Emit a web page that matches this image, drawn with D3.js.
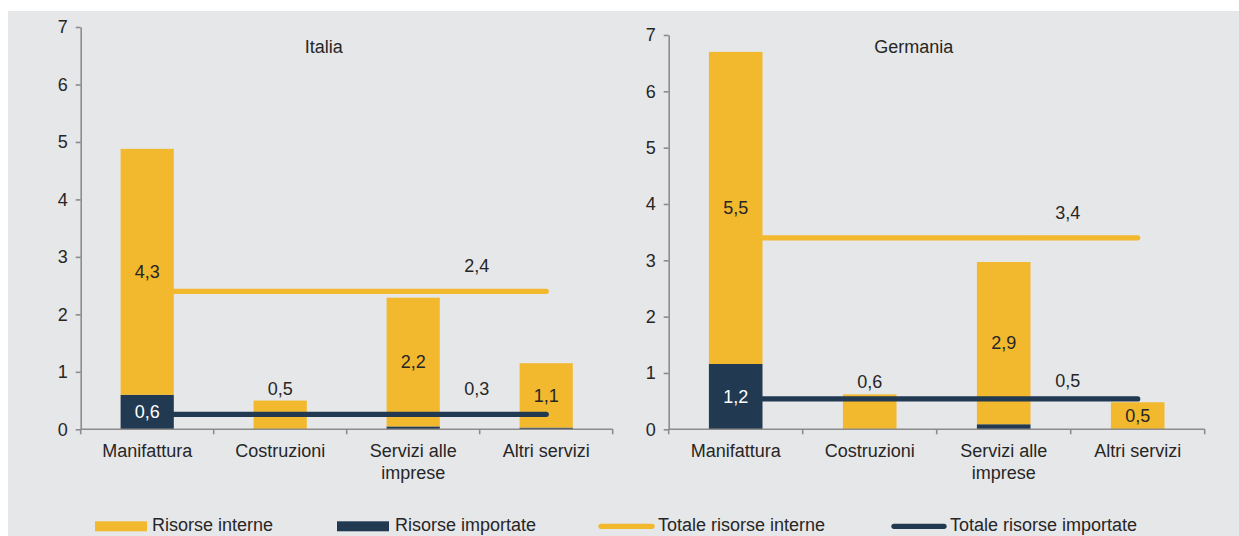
<!DOCTYPE html>
<html>
<head>
<meta charset="utf-8">
<script src="https://cdn.jsdelivr.net/npm/d3@7"></script>
<style>
  html, body { margin: 0; padding: 0; background: #ffffff; }
  svg { display: block; }
  text { font-family: "Liberation Sans", Arial, sans-serif; font-size: 18px; fill: #262626; }
</style>
</head>
<body>
<svg id="chart" width="1239" height="536"></svg>
<script>
// ---------- data ----------
const categories = ["Manifattura", "Costruzioni", "Servizi alle imprese", "Altri servizi"];
const categoryLines = [["Manifattura"], ["Costruzioni"], ["Servizi alle", "imprese"], ["Altri servizi"]];
const yTicks = [0, 1, 2, 3, 4, 5, 6, 7];

const italiaInterne   = [4.28, 0.50, 2.24, 1.12];
const italiaImportate = [0.60, 0.00, 0.05, 0.03];
const italiaTotaleInterne   = 2.4;
const italiaTotaleImportate = 0.26;

const germaniaInterne   = [5.54, 0.62, 2.88, 0.48];
const germaniaImportate = [1.16, 0.00, 0.09, 0.00];
const germaniaTotaleInterne   = 3.4;
const germaniaTotaleImportate = 0.54;

const internalLabelAbove = [false, true, false, false];

const legendLabels = ["Risorse interne", "Risorse importate", "Totale risorse interne", "Totale risorse importate"];

// ---------- style ----------
const YELLOW = "#f2b82e";
const NAVY = "#213a52";
const AXIS = "#8c8c8c";
const BG = "#e6e7e9";

const fmt = d3.formatLocale({decimal: ",", thousands: ".", grouping: [3], currency: ["€", ""]}).format(".1f");

const svg = d3.select("#chart");
svg.append("rect").attr("x", 8).attr("y", 11).attr("width", 1231).attr("height", 525).attr("fill", BG);

const panels = [
  {title: "Italia", interne: italiaInterne, importate: italiaImportate,
   totInt: italiaTotaleInterne, totImp: italiaTotaleImportate,
   left: 80.7, right: 612.7, top: 27, bottom: 429.3, impLabelOffset: 19},
  {title: "Germania", interne: germaniaInterne, importate: germaniaImportate,
   totInt: germaniaTotaleInterne, totImp: germaniaTotaleImportate,
   left: 668.7, right: 1204.7, top: 35, bottom: 429.3, impLabelOffset: 12}
];

panels.forEach(p => {
  const g = svg.append("g");
  const x = d3.scaleBand().domain(categories).range([p.left, p.right]).paddingInner(0.6).paddingOuter(0.3);
  const y = d3.scaleLinear().domain([0, 7]).range([p.bottom, p.top]);

  const rows = categories.map((c, i) => ({cat: c, importate: p.importate[i], interne: p.interne[i]}));
  const stack = d3.stack().keys(["importate", "interne"])(rows);
  const colors = {importate: NAVY, interne: YELLOW};

  // y axis
  const yAxis = g.append("g").attr("transform", `translate(${p.left},0)`)
    .call(d3.axisLeft(y).tickValues(yTicks).tickSize(5).tickSizeOuter(0).tickPadding(8).tickFormat(d3.format("d")));
  yAxis.select(".domain").attr("stroke", AXIS).attr("stroke-width", 1.6);
  yAxis.selectAll(".tick line").attr("stroke", AXIS).attr("stroke-width", 1.6);
  yAxis.selectAll(".tick text").attr("font-size", 18).attr("fill", "#262626")
    .attr("font-family", "Liberation Sans, Arial, sans-serif");

  // bars
  stack.forEach(layer => {
    g.append("g").selectAll("rect").data(layer).join("rect")
      .attr("x", d => x(d.data.cat))
      .attr("width", x.bandwidth())
      .attr("y", d => y(d[1]))
      .attr("height", d => Math.max(0, y(d[0]) - y(d[1])))
      .attr("fill", colors[layer.key]);
  });

  // x axis: line + ticks at band boundaries
  const step = x.step();
  const bounds = d3.range(categories.length + 1).map(i => p.left + i * step);
  g.append("line").attr("x1", p.left).attr("x2", p.right).attr("y1", y(0)).attr("y2", y(0))
    .attr("stroke", AXIS).attr("stroke-width", 1.6);
  g.append("g").selectAll("line").data(bounds).join("line")
    .attr("x1", d => d).attr("x2", d => d).attr("y1", y(0)).attr("y2", y(0) + 5)
    .attr("stroke", AXIS).attr("stroke-width", 1.6);

  // category labels
  const cl = g.append("g").selectAll("text").data(categories).join("text")
    .attr("text-anchor", "middle")
    .attr("x", d => x(d) + x.bandwidth() / 2)
    .attr("y", y(0) + 28);
  cl.each(function(d, i) {
    d3.select(this).selectAll("tspan").data(categoryLines[i]).join("tspan")
      .attr("x", x(d) + x.bandwidth() / 2)
      .attr("dy", (t, j) => j === 0 ? 0 : 21.5)
      .text(t => t);
  });

  // total lines
  const line = d3.line().x(d => x(d) + x.bandwidth() / 2);
  [[p.totInt, YELLOW], [p.totImp, NAVY]].forEach(([v, col]) => {
    g.append("path").datum(categories)
      .attr("d", line.y(() => y(v)))
      .attr("fill", "none").attr("stroke", col).attr("stroke-width", 5.3).attr("stroke-linecap", "round");
  });

  // bar value labels
  rows.forEach((r, i) => {
    const cx = x(r.cat) + x.bandwidth() / 2;
    const top = r.importate + r.interne;
    if (internalLabelAbove[i]) {
      g.append("text").attr("text-anchor", "middle").attr("x", cx).attr("y", y(top) - 6).text(fmt(r.interne));
    } else {
      g.append("text").attr("text-anchor", "middle").attr("x", cx)
        .attr("y", y(r.importate + r.interne / 2) + 6.3).text(fmt(r.interne));
    }
    if (r.importate >= 0.3) {
      g.append("text").attr("text-anchor", "middle").attr("x", cx)
        .attr("y", y(r.importate / 2) + 6.3).style("fill", "#ffffff").text(fmt(r.importate));
    }
  });

  // total line labels
  const lx = bounds[3] - 3;
  g.append("text").attr("text-anchor", "middle").attr("x", lx).attr("y", y(p.totInt) - 19).text(fmt(p.totInt));
  g.append("text").attr("text-anchor", "middle").attr("x", lx).attr("y", y(p.totImp) - p.impLabelOffset).text(fmt(p.totImp));

  // title
  g.append("text").attr("text-anchor", "middle").attr("x", (p.left + p.right) / 2 - 23).attr("y", 52.5).text(p.title);
});

// legend
const legend = svg.append("g").attr("transform", "translate(0,-4)");
const legendItems = [
  {type: "rect", color: YELLOW, x0: 95, x1: 147, tx: 152},
  {type: "rect", color: NAVY, x0: 337, x1: 389, tx: 395},
  {type: "line", color: YELLOW, x0: 601, x1: 652, tx: 658},
  {type: "line", color: NAVY, x0: 894, x1: 944, tx: 950}
];
legendItems.forEach((it, i) => {
  if (it.type === "rect") {
    legend.append("rect").attr("x", it.x0).attr("y", 525.3).attr("width", it.x1 - it.x0).attr("height", 10).attr("fill", it.color);
  } else {
    legend.append("line").attr("x1", it.x0).attr("x2", it.x1).attr("y1", 530.3).attr("y2", 530.3)
      .attr("stroke", it.color).attr("stroke-width", 5.3).attr("stroke-linecap", "round");
  }
  legend.append("text").attr("x", it.tx).attr("y", 535).text(legendLabels[i]);
});
</script>
</body>
</html>
